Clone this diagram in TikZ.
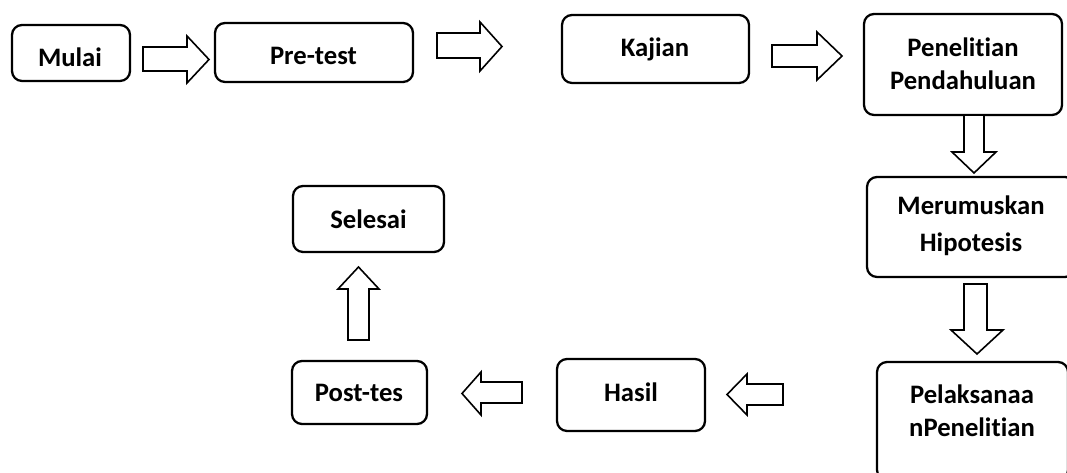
\documentclass[tikz,border=0pt]{standalone}
\usepackage{fontspec}
\setmainfont{Carlito}[Ligatures=NoCommon]
\begin{document}
\begin{tikzpicture}[x=0.75pt,y=-0.75pt,
  box/.style={draw=black,line width=1.7pt,rounded corners=7.5pt,inner sep=0pt},
  lbl/.style={anchor=base,align=center,inner sep=0pt,font=\bfseries\fontsize{20}{25}\selectfont},
  blockarrow/.style={draw=black,fill=white,line width=1.2pt,line join=miter}]
\useasboundingbox (0,0) rectangle (1067,473);
\clip (0,0) rectangle (1067,473);
% boxes
\newcommand{\bx}[5]{\node[box,minimum width={(#4-#2)*0.75pt},minimum height={(#5-#3)*0.75pt}] (#1) at ({(#2+#4)/2},{(#3+#5)/2}) {};}
\bx{mulai}{12}{25}{130}{81}
\bx{pretest}{215}{23}{413}{82}
\bx{kajian}{562}{15}{749}{83}
\bx{pendahuluan}{864}{14}{1062}{115}
\bx{hipotesis}{867}{177}{1075}{277}
\bx{pelaksanaan}{877}{362}{1068}{480}
\bx{hasil}{557}{359}{705}{431}
\bx{posttes}{292}{361}{427}{424}
\bx{selesai}{293}{186}{444}{252}
% texts (base anchor = baseline of the last line)
\node[lbl] (tmulai) at (70,67) {Mulai};
\node[lbl] (tpretest) at (313.5,65) {Pre-test};
\node[lbl] (tkajian) at (655,57) {Kajian};
\node[lbl,font=\bfseries\fontsize{20}{24.75}\selectfont] (tpendahuluan) at (963,90) {Penelitian\\Pendahuluan};
\node[lbl,font=\bfseries\fontsize{20}{27.75}\selectfont] (thipotesis) at (971,252) {Merumuskan\\Hipotesis};
\node[lbl,font=\bfseries\fontsize{20}{24.75}\selectfont] (tpelaksanaan) at (972,437) {Pelaksanaa\\nPenelitian};
\node[lbl] (tselesai) at (368.5,229) {Selesai};
\node[lbl] (tposttes) at (359,402) {Post-tes};
\node[lbl] (thasil) at (631,402) {Hasil};
% right-pointing block arrows
\draw[blockarrow] (143,47) -- (187,47) -- (187,36) -- (209,59.5) -- (187,83) -- (187,71) -- (143,71) -- cycle;
\draw[blockarrow] (437,33) -- (480,33) -- (480,22) -- (502,46.5) -- (480,71) -- (480,58) -- (437,58) -- cycle;
\draw[blockarrow] (772,45) -- (817,45) -- (817,32) -- (842,56) -- (817,80) -- (817,67) -- (772,67) -- cycle;
% down-pointing block arrows
\draw[blockarrow] (964,115) -- (964,152) -- (952,152) -- (974,173) -- (996,152) -- (984,152) -- (984,115) -- cycle;
\draw[blockarrow] (964,284) -- (964,330) -- (951,330) -- (977,354) -- (1003,330) -- (987,330) -- (987,284) -- cycle;
% left-pointing block arrows
\draw[blockarrow] (783,384) -- (747,384) -- (747,374) -- (727,394.5) -- (747,415) -- (747,405) -- (783,405) -- cycle;
\draw[blockarrow] (522,382) -- (481,382) -- (481,372) -- (462,393.5) -- (481,415) -- (481,403) -- (522,403) -- cycle;
% up-pointing block arrow
\draw[blockarrow] (348,340) -- (348,289) -- (338,289) -- (358.5,267) -- (379,289) -- (369,289) -- (369,340) -- cycle;
\end{tikzpicture}
\end{document}
